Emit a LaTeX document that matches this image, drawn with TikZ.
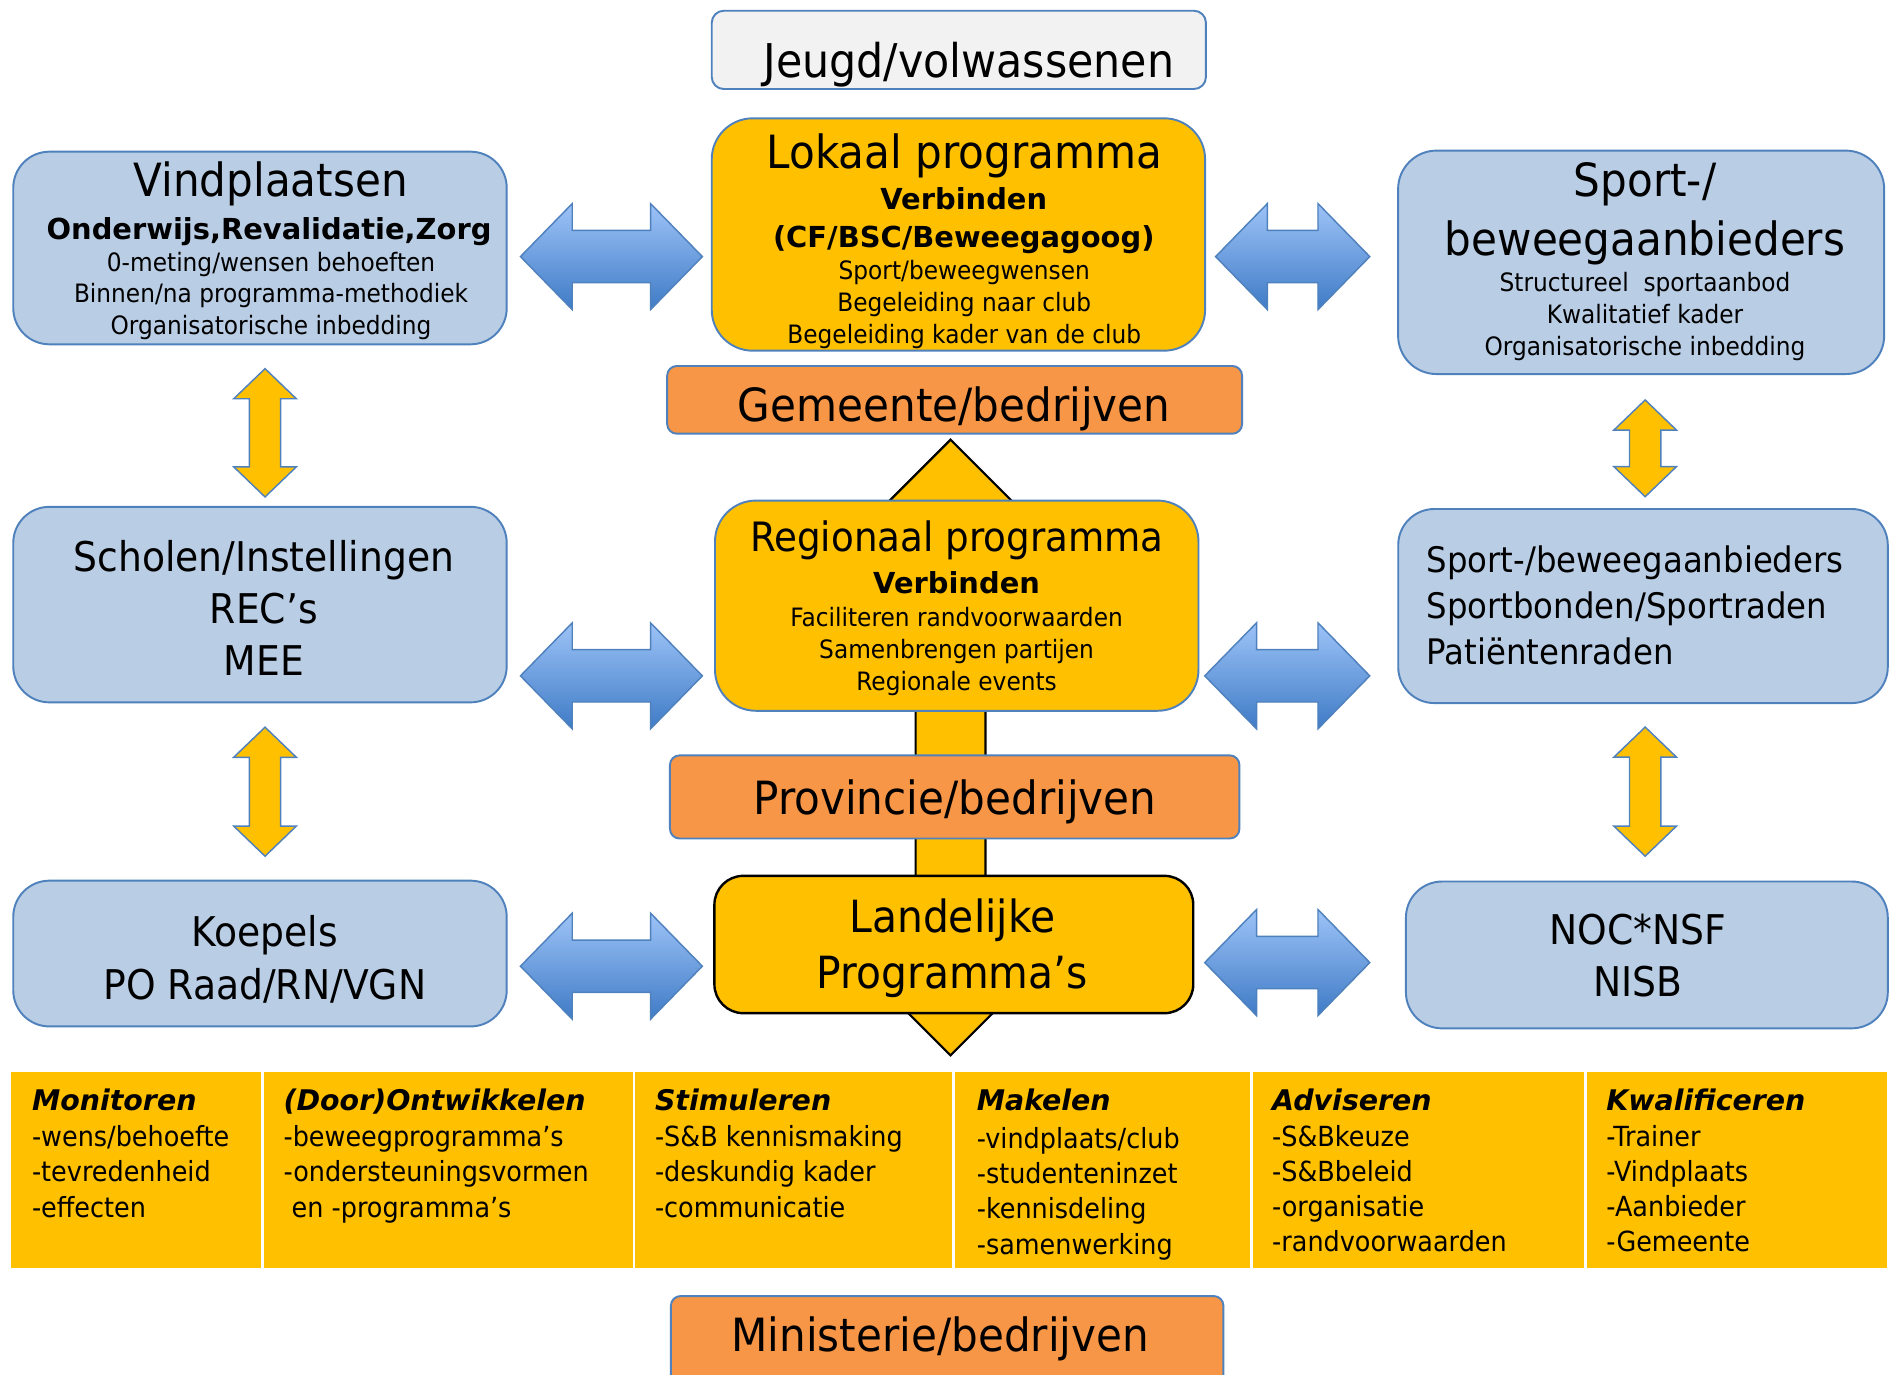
\documentclass[tikz,border=0pt]{standalone}
\usepackage{fontspec}
\setmainfont{DejaVu Sans}[FakeStretch=0.92]
\newfontfamily\widefont{DejaVu Sans}
\usepackage{tikz}
\usetikzlibrary{fit}
\definecolor{boxblue}{HTML}{B9CDE5}
\definecolor{boxline}{HTML}{4F81BD}
\definecolor{gold}{HTML}{FFC000}
\definecolor{peach}{HTML}{F79646}
\definecolor{pale}{HTML}{F2F2F2}
\definecolor{arrowtop}{HTML}{9DC3F7}
\definecolor{arrowbot}{HTML}{3F7BC6}
\tikzset{
  every node/.style={inner sep=0pt},
  bluebox/.style={draw=boxline, fill=boxblue, line width=0.8pt, rounded corners=15pt},
  goldbox/.style={draw=boxline, fill=gold, line width=0.8pt, rounded corners=17pt},
  peachbox/.style={draw=boxline, fill=peach, line width=0.8pt, rounded corners=4pt},
  cell/.style={fill=gold},
  big/.style={anchor=base, font=\fontsize{19}{23}\selectfont},
  mid/.style={anchor=base, font=\fontsize{17}{21}\selectfont},
  sub/.style={anchor=base, font=\fontsize{12}{15}\widefont\bfseries},
  small/.style={anchor=base, font=\fontsize{10.5}{13}\selectfont},
  head/.style={anchor=base west, font=\fontsize{11.8}{14}\widefont\bfseries\itshape},
  item/.style={anchor=base west, font=\fontsize{11.5}{14}\selectfont},
  blockarrow/.style={draw=boxline, line width=0.6pt, top color=arrowtop, bottom color=arrowbot},
  goldarrow/.style={draw=boxline, line width=0.6pt, fill=gold},
}
% left tip x, right tip x, middle y
\newcommand{\lrblock}[3]{%
  \draw[blockarrow] (#1,#3) -- (#1+43,#3-44) -- (#1+43,#3-21.7) -- (#2-43,#3-21.7)
    -- (#2-43,#3-44) -- (#2,#3) -- (#2-43,#3+44) -- (#2-43,#3+21.7)
    -- (#1+43,#3+21.7) -- (#1+43,#3+44) -- cycle;}
% middle x, top tip y, bottom tip y
\newcommand{\udblock}[3]{%
  \draw[goldarrow] (#1,#2) -- (#1+26,#2+25) -- (#1+13,#2+25) -- (#1+13,#3-25)
    -- (#1+26,#3-25) -- (#1,#3) -- (#1-26,#3-25) -- (#1-13,#3-25)
    -- (#1-13,#2+25) -- (#1-26,#2+25) -- cycle;}

\begin{document}
\begin{tikzpicture}[x=0.5pt,y=-0.5pt]
  \useasboundingbox (0,0) rectangle (1568,1141);
  \fill[white] (0,0) rectangle (1568,1141);

  % central column
  \draw[fill=gold, draw=black, line width=0.9pt] (789,365) -- (864,440) -- (818,440) -- (818,801)
    -- (864,801) -- (789,876) -- (714,801) -- (760,801) -- (760,440) -- (714,440) -- cycle;

  \node[bluebox, fill=pale, rounded corners=5pt, fit={(590.8,8.9) (1001,73.9)}] (jeugd) {};
  \node[anchor=base, font=\fontsize{19.3}{23}\selectfont] (jeugd-t) at (804.2,64.2) {Jeugd/volwassenen};

  \node[goldbox, fit={(590.8,98.2) (1000.3,291.1)}] (lok) {};
  \node[big] (lok-t) at (800.4,139.7) {Lokaal programma};
  \node[sub] (lok-s1) at (800,174.3) {Verbinden};
  \node[sub] (lok-s2) at (800,205.3) {(CF/BSC/Beweegagoog)};
  \foreach \t [count=\i from 0] in {Sport/beweegwensen, Begeleiding naar club, Begeleiding kader van de club}
    \node[small] (lok-\i) at (800.4,232.4+26.3*\i) {\t};

  \node[peachbox, fit={(553.8,303.8) (1031,360)}] (gem) {};
  \node[big] (gem-t) at (792,349.6) {Gemeente/bedrijven};

  \node[goldbox, fit={(593.5,415.5) (994.8,590)}] (reg) {};
  \node[anchor=base, font=\fontsize{16.8}{20}\selectfont] (reg-t) at (794.2,457.7) {Regionaal programma};
  \node[sub] (reg-s) at (794,492.6) {Verbinden};
  \foreach \t [count=\i from 0] in {Faciliteren randvoorwaarden, Samenbrengen partijen, Regionale events}
    \node[small] (reg-\i) at (794,520+26.65*\i) {\t};

  \node[peachbox, fit={(556.1,627) (1028.8,696)}] (prov) {};
  \node[big] (prov-t) at (792.6,676) {Provincie/bedrijven};

  \node[goldbox, draw=black, line width=1pt, rounded corners=12pt, fit={(593,727) (990.5,841)}] (land) {};
  \foreach \t [count=\i from 0] in {Landelijke, Programma’s}
    \node[anchor=base, font=\fontsize{18.4}{23}\selectfont] (land-\i) at (790.5,774+46.9*\i) {\t};

  \node[peachbox, fit={(556.9,1075.8) (1015.5,1150)}] (min) {};
  \node[big] (min-t) at (780.5,1122) {Ministerie/bedrijven};

  % left column
  \node[bluebox, fit={(11,125.9) (420.6,285.8)}] (vind) {};
  \node[big] (vind-t) at (224.6,163.3) {Vindplaatsen};
  \node[sub] (vind-s) at (223.3,198.7) {Onderwijs,Revalidatie,Zorg};
  \foreach \t [count=\i from 0] in {0-meting/wensen behoeften, Binnen/na programma-methodiek, Organisatorische inbedding}
    \node[small] (vind-\i) at (225,225.5+26*\i) {\t};

  \node[bluebox, fit={(11,420.7) (420.6,583)}] (school) {};
  \foreach \t [count=\i from 0] in {Scholen/Instellingen, REC’s, MEE}
    \node[mid] (school-\i) at (219,474+43.25*\i) {\t};

  \node[bluebox, fit={(11,731) (420.6,852)}] (koep) {};
  \foreach \t [count=\i from 0] in {Koepels, PO Raad/RN/VGN}
    \node[mid] (koep-\i) at (219.8,785.8+44*\i) {\t};

  % right column
  \node[bluebox, rounded corners=16pt, fit={(1160.5,125) (1564,310.5)}] (sport) {};
  \foreach \t [count=\i from 0] in {Sport-/, beweegaanbieders}
    \node[big] (sport-t\i) at (1365.5,163.3+48.4*\i) {\t};
  \foreach \t [count=\i from 0] in {Structureel\ \ sportaanbod, Kwalitatief kader, Organisatorische inbedding}
    \node[small] (sport-\i) at (1365.5,242.1+26.3*\i) {\t};

  \node[bluebox, fit={(1160.6,422.5) (1567,583.6)}] (bond) {};
  \foreach \t [count=\i from 0] in {Sport-/beweegaanbieders, Sportbonden/Sportraden, Patiëntenraden}
    \node[anchor=base west, font=\fontsize{14.6}{18}\selectfont] (bond-\i) at (1183.7,475.6+37.8*\i) {\t};

  \node[bluebox, fit={(1167,731.7) (1567,853.6)}] (noc) {};
  \foreach \t [count=\i from 0] in {NOC*NSF, NISB}
    \node[mid] (noc-\i) at (1359.7,784.2+43.1*\i) {\t};

  % block arrows
  \lrblock{432}{583}{213}
  \lrblock{432}{583}{561}
  \lrblock{432}{583}{802}
  \lrblock{1009}{1137}{213}
  \lrblock{1000}{1137}{561}
  \lrblock{1000}{1137}{799}
  \udblock{220}{306}{412.5}
  \udblock{220}{603.6}{710.7}
  \udblock{1365.6}{332}{412.3}
  \udblock{1365.6}{603.5}{710.7}

  % table
  \node[cell, fit={(9,890.1) (216.8,1052.8)}] (mon) {};
  \node[head] (mon-h) at (26.2,922) {Monitoren};
  \foreach \t [count=\i from 0] in {-wens/behoefte, -tevredenheid, -effecten}
    \node[item] (mon-\i) at (26.2,951.8+29.2*\i) {\t};

  \node[cell, fit={(219.3,890.1) (525.7,1052.8)}] (ontw) {};
  \node[head] (ontw-h) at (235,922) {(Door)Ontwikkelen};
  \foreach \t [count=\i from 0] in {-beweegprogramma’s, -ondersteuningsvormen, \ en -programma’s}
    \node[item] (ontw-\i) at (235,951.8+29.2*\i) {\t};

  \node[cell, fit={(527.3,890.1) (790.3,1052.8)}] (stim) {};
  \node[head] (stim-h) at (543.3,922) {Stimuleren};
  \foreach \t [count=\i from 0] in {-S\&B kennismaking, -deskundig kader, -communicatie}
    \node[item] (stim-\i) at (543.3,951.8+29.2*\i) {\t};

  \node[cell, fit={(792.8,890.1) (1037.5,1052.8)}] (mak) {};
  \node[head] (mak-h) at (810.4,922) {Makelen};
  \foreach \t [count=\i from 0] in {-vindplaats/club, -studenteninzet, -kennisdeling, -samenwerking}
    \node[item] (mak-\i) at (810.4,953.2+29.3*\i) {\t};

  \node[cell, fit={(1040,890.1) (1314.4,1052.8)}] (adv) {};
  \node[head] (adv-h) at (1055.6,922) {Adviseren};
  \foreach \t [count=\i from 0] in {-S\&Bkeuze, -S\&Bbeleid, -organisatie, -randvoorwaarden}
    \node[item] (adv-\i) at (1055.6,951.8+29.1*\i) {\t};

  \node[cell, fit={(1317,890.1) (1566.7,1052.8)}] (kwal) {};
  \node[head] (kwal-h) at (1333,922) {Kwalificeren};
  \foreach \t [count=\i from 0] in {-Trainer, -Vindplaats, -Aanbieder, -Gemeente}
    \node[item] (kwal-\i) at (1333,951.8+29.1*\i) {\t};
\end{tikzpicture}
\end{document}
